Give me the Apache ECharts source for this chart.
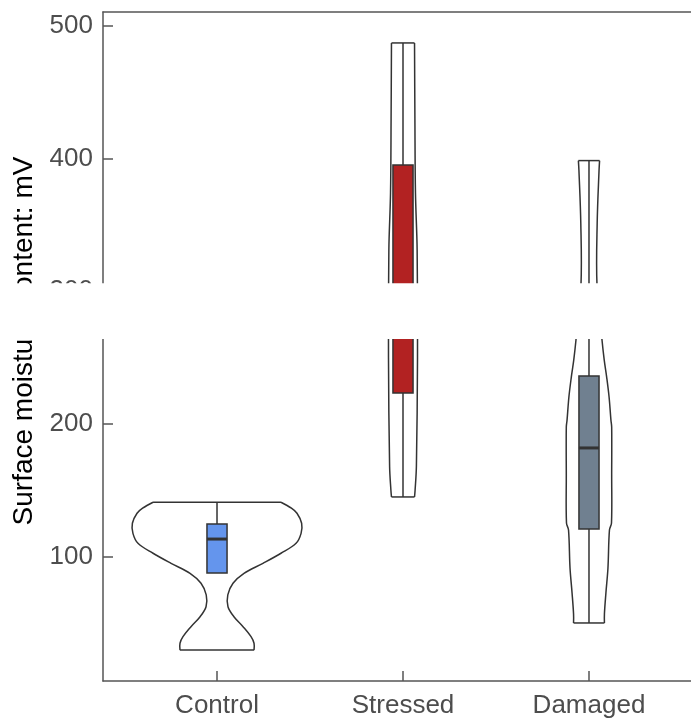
<!DOCTYPE html>
<html>
<head>
<meta charset="utf-8">
<script src="https://cdn.jsdelivr.net/npm/echarts@6/dist/echarts.min.js"></script>
<style>
  html, body { margin: 0; padding: 0; background: #fff; overflow: hidden; }
  #chart { width: 691px; height: 718px; }
</style>
</head>
<body>
<div id="chart"></div>
<script>
// Groups along the x axis (placed at x = 1, 2, 3)
const categories = ['Control', 'Stressed', 'Damaged'];
const boxColors = ['#6495ED', '#B22222', '#708090'];

// Box summaries: [lower whisker, Q1, median, Q3, upper whisker]
const controlBox  = [87.7, 87.7, 113.3, 124.6, 141.0];
const stressedBox = [145.0, 223.3, 287.0, 395.0, 486.9];
const damagedBox  = [50.1, 120.9, 181.9, 236.1, 398.3];

// Violin outlines: density levels (mV) and half widths (in group units)
const controlLevels    = [141.0, 136.5, 132.7, 125.2, 117.6, 110.1, 102.6, 95.0, 87.5, 80.0, 71.2, 62.3, 54.8, 47.3, 39.8, 34.8, 29.7];
const controlHalfWidth = [0.344, 0.400, 0.430, 0.455, 0.452, 0.425, 0.344, 0.247, 0.145, 0.086, 0.058, 0.059, 0.091, 0.140, 0.183, 0.199, 0.199];

const stressedLevels    = [486.9, 430.0, 374.0, 331.0, 250.0, 168.0, 150.0, 145.0];
const stressedHalfWidth = [0.062, 0.064, 0.067, 0.076, 0.078, 0.072, 0.065, 0.062];

const damagedLevels    = [398.3, 390.8, 351.0, 305.0, 263.2, 248.1, 235.3, 220.3, 202.9, 197.7, 161.5, 125.4, 120.1, 91.5, 72.7, 56.9, 50.1];
const damagedHalfWidth = [0.057, 0.054, 0.044, 0.043, 0.070, 0.082, 0.095, 0.108, 0.118, 0.122, 0.122, 0.121, 0.110, 0.102, 0.091, 0.083, 0.083];

// Axis ticks and ranges
const yTicks = [100, 200, 300, 400, 500];
const yRange = [6.4, 510.2];
const xRange = [0.387, 3.613];
const xTicks = [1, 2, 3];
// Value band blanked out across the whole figure
const hiddenBand = [264, 306];

const boxStats = [controlBox, stressedBox, damagedBox];
const violinLevels = [controlLevels, stressedLevels, damagedLevels];
const violinHalfWidths = [controlHalfWidth, stressedHalfWidth, damagedHalfWidth];

const lineColor = '#333333';
const axisColor = '#555555';
const labelColor = '#4D4D4D';
const fontFamily = '"Liberation Sans", Arial, sans-serif';
const boxHalfWidth = 0.054;

function renderViolin(params, api) {
  const i = params.dataIndex;
  const cx = i + 1;
  const levels = violinLevels[i];
  const hw = violinHalfWidths[i];
  const left = levels.map((v, k) => api.coord([cx - hw[k], v]));
  const right = levels.map((v, k) => api.coord([cx + hw[k], v]));
  const stroke = { stroke: lineColor, lineWidth: 1.5, fill: null };
  const n = levels.length - 1;
  return {
    type: 'group',
    children: [
      { type: 'polygon', shape: { points: left.concat(right.slice().reverse()) }, style: { fill: '#fff', stroke: null } },
      { type: 'polyline', shape: { points: left, smooth: 0.35 }, style: stroke },
      { type: 'polyline', shape: { points: right, smooth: 0.35 }, style: stroke },
      { type: 'line', shape: { x1: left[0][0], y1: left[0][1], x2: right[0][0], y2: right[0][1] }, style: stroke },
      { type: 'line', shape: { x1: left[n][0], y1: left[n][1], x2: right[n][0], y2: right[n][1] }, style: stroke }
    ]
  };
}

function renderBox(params, api) {
  const i = params.dataIndex;
  const cx = i + 1;
  const s = boxStats[i];
  const pLow = api.coord([cx, s[0]]);
  const pQ1 = api.coord([cx, s[1]]);
  const pMed = api.coord([cx, s[2]]);
  const pQ3 = api.coord([cx, s[3]]);
  const pHigh = api.coord([cx, s[4]]);
  const xl = api.coord([cx - boxHalfWidth, s[2]])[0];
  const xr = api.coord([cx + boxHalfWidth, s[2]])[0];
  const stroke = { stroke: lineColor, lineWidth: 1.5, fill: null };
  return {
    type: 'group',
    children: [
      { type: 'line', shape: { x1: pQ3[0], y1: pQ3[1], x2: pHigh[0], y2: pHigh[1] }, style: stroke },
      { type: 'line', shape: { x1: pLow[0], y1: pLow[1], x2: pQ1[0], y2: pQ1[1] }, style: stroke },
      { type: 'rect', shape: { x: xl, y: pQ3[1], width: xr - xl, height: pQ1[1] - pQ3[1] },
        style: { fill: boxColors[i], stroke: lineColor, lineWidth: 1.5 } },
      { type: 'line', shape: { x1: xl, y1: pMed[1], x2: xr, y2: pMed[1] }, style: { stroke: lineColor, lineWidth: 3 } }
    ]
  };
}

const chart = echarts.init(document.getElementById('chart'), null, { renderer: 'canvas' });

chart.setOption({
  animation: false,
  grid: {
    left: 103, top: 12, width: 600, height: 669,
    outerBoundsMode: 'none',
    containLabel: false,
    show: false
  },
  xAxis: [
    {
      type: 'value',
      min: xRange[0], max: xRange[1],
      splitLine: { show: false },
      axisLine: { show: true, lineStyle: { color: axisColor, width: 1.5 } },
      axisTick: { show: true, inside: true, length: 10, customValues: xTicks, lineStyle: { color: axisColor, width: 1.5 } },
      axisLabel: {
        customValues: xTicks,
        formatter: v => categories[Math.round(v) - 1] || '',
        color: labelColor, fontSize: 26, fontFamily: fontFamily, margin: 12
      }
    },
    {
      // top frame line of the panel
      type: 'value',
      position: 'top',
      min: xRange[0], max: xRange[1],
      splitLine: { show: false },
      axisLine: { show: true, lineStyle: { color: axisColor, width: 1.5 } },
      axisTick: { show: false },
      axisLabel: { show: false }
    }
  ],
  yAxis: {
    type: 'value',
    min: yRange[0], max: yRange[1],
    splitLine: { show: false },
    name: 'Surface moisture content: mV',
    nameLocation: 'middle',
    nameGap: 58,
    nameTextStyle: { color: '#000', fontSize: 28, fontFamily: fontFamily, padding: [0, 0, 0, 11] },
    axisLine: { show: true, lineStyle: { color: axisColor, width: 1.5 } },
    axisTick: { show: true, inside: true, length: 10, customValues: yTicks, lineStyle: { color: axisColor, width: 1.5 } },
    axisLabel: {
      customValues: yTicks,
      color: labelColor, fontSize: 26, fontFamily: fontFamily, margin: 10
    }
  },
  series: [
    {
      type: 'custom',
      name: 'violin',
      renderItem: renderViolin,
      data: categories.map((c, i) => [i + 1, boxStats[i][2]]),
      z: 2
    },
    {
      type: 'custom',
      name: 'box',
      renderItem: renderBox,
      data: categories.map((c, i) => [i + 1, boxStats[i][2]]),
      z: 3
    }
  ]
});

// White band across the figure over the hidden value range,
// plus a clean right edge inside the panel (the panel continues past the page)
const bandTop = chart.convertToPixel({ yAxisIndex: 0 }, hiddenBand[1]);
const bandBottom = chart.convertToPixel({ yAxisIndex: 0 }, hiddenBand[0]);
const panelTop = chart.convertToPixel({ yAxisIndex: 0 }, yRange[1]);
const panelBottom = chart.convertToPixel({ yAxisIndex: 0 }, yRange[0]);
const W = chart.getWidth();
chart.setOption({
  graphic: [
    {
      type: 'rect',
      zlevel: 1,
      z: 100,
      shape: { x: 0, y: bandTop, width: W, height: bandBottom - bandTop },
      style: { fill: '#fff' }
    },
    {
      type: 'rect',
      zlevel: 1,
      z: 100,
      shape: { x: W - 8, y: panelTop + 1.5, width: 8, height: panelBottom - panelTop - 3 },
      style: { fill: '#fff' }
    }
  ]
});
</script>
</body>
</html>
